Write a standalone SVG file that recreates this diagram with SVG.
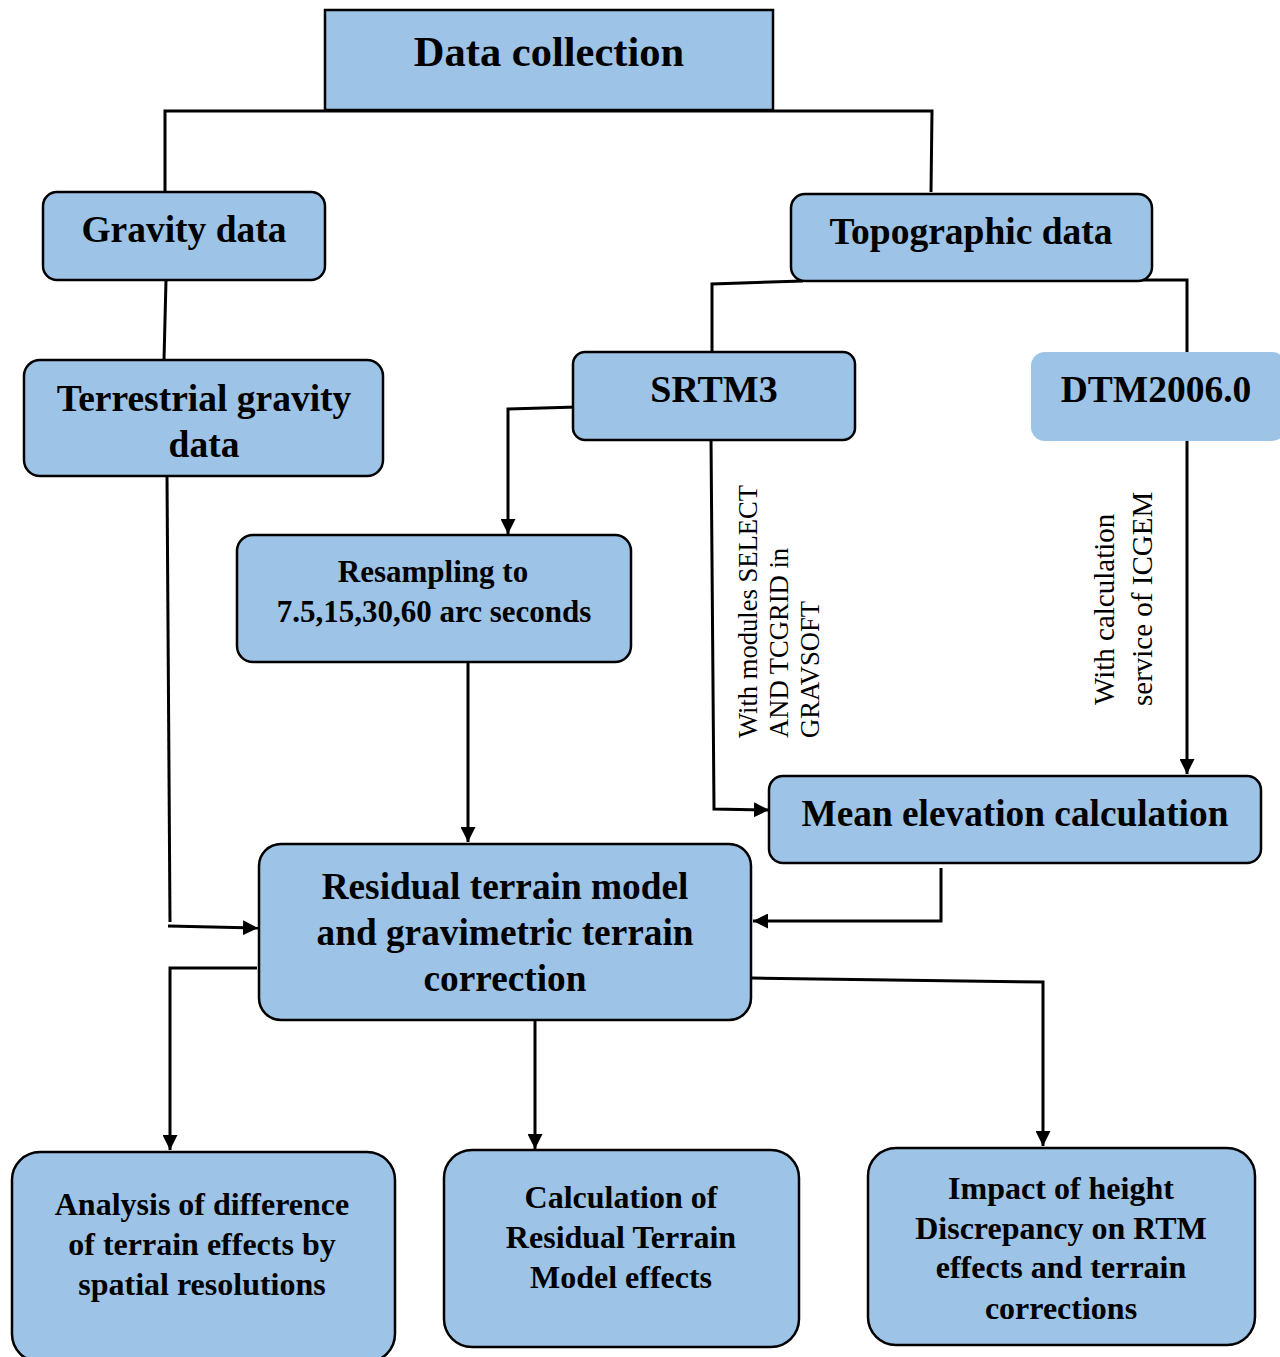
<svg xmlns="http://www.w3.org/2000/svg" width="1280" height="1357" viewBox="0 0 1280 1357">
<defs>
<style>
.box{fill:#9DC3E6;stroke:#000;stroke-width:2.5}
.nb{fill:#9DC3E6;stroke:none}
.t{font-family:"Liberation Serif","Times New Roman",serif;font-weight:bold;fill:#000;text-anchor:middle}
.r{font-family:"Liberation Serif","Times New Roman",serif;fill:#000}
.ln{fill:none;stroke:#000;stroke-width:3}
</style>
<marker id="ah" viewBox="0 0 10 10" refX="10" refY="5" markerWidth="5" markerHeight="5" orient="auto" markerUnits="strokeWidth">
<path d="M0,0 L10,5 L0,10 z" fill="#000"/>
</marker>
</defs>
<rect width="1280" height="1357" fill="#fff"/>
<g id="connectors">
<polyline class="ln" points="165,192 165,111 932,111 931,192"/>
<line class="ln" x1="166" y1="280" x2="164" y2="360"/>
<polyline class="ln" points="803,281 712,284 712,352"/>
<polyline class="ln" points="1140,280 1187,280 1187,352"/>
<polyline class="ln" points="1187,440 1187,774" marker-end="url(#ah)"/>
<polyline class="ln" points="577,407 508,409 508,534" marker-end="url(#ah)"/>
<polyline class="ln" points="468,662 468,842" marker-end="url(#ah)"/>
<polyline class="ln" points="711,437 714,809 769,810" marker-end="url(#ah)"/>
<polyline class="ln" points="941,868 941,921 753,921" marker-end="url(#ah)"/>
<polyline class="ln" points="167,476 170,922"/>
<polyline class="ln" points="168,926 258,928" marker-end="url(#ah)"/>
<polyline class="ln" points="257,968 170,968 170,1150" marker-end="url(#ah)"/>
<polyline class="ln" points="535,1020 535,1149" marker-end="url(#ah)"/>
<polyline class="ln" points="752,978 1043,982 1043,1146" marker-end="url(#ah)"/>
</g>
<g id="data-collection">
<rect class="box" x="325" y="10" width="448" height="100" stroke-width="3"/>
<text class="t" x="549" y="66" font-size="42.5">Data collection</text>
</g>
<g id="gravity-data">
<rect class="box" x="43" y="192" width="282" height="88" rx="14"/>
<text class="t" x="184" y="242" font-size="37.5">Gravity data</text>
</g>
<g id="topographic-data">
<rect class="box" x="791" y="194" width="361" height="87" rx="14"/>
<text class="t" x="971" y="244" font-size="37.5">Topographic data</text>
</g>
<g id="terrestrial-gravity-data">
<rect class="box" x="24" y="360" width="359" height="116" rx="16"/>
<text class="t" x="204" y="411" font-size="37.5">Terrestrial gravity</text>
<text class="t" x="204" y="457" font-size="37.5">data</text>
</g>
<g id="srtm3">
<rect class="box" x="573" y="352" width="282" height="88" rx="12"/>
<text class="t" x="714" y="402" font-size="38">SRTM3</text>
</g>
<g id="dtm2006">
<rect class="nb" x="1031" y="352" width="255" height="89" rx="14"/>
<text class="t" x="1156" y="402" font-size="37.5">DTM2006.0</text>
</g>
<g id="resampling">
<rect class="box" x="237" y="535" width="394" height="127" rx="16"/>
<text class="t" x="433" y="582" font-size="31">Resampling to</text>
<text class="t" x="434" y="622" font-size="31">7.5,15,30,60 arc seconds</text>
</g>
<g id="label-gravsoft">
<text class="r" font-size="26.6" transform="translate(757,738) rotate(-90)">With modules SELECT</text>
<text class="r" font-size="26.6" transform="translate(788,738) rotate(-90)">AND TCGRID in</text>
<text class="r" font-size="26.6" transform="translate(819,738) rotate(-90)">GRAVSOFT</text>
</g>
<g id="label-icgem">
<text class="r" font-size="29" transform="translate(1114,705) rotate(-90)">With calculation</text>
<text class="r" font-size="29" transform="translate(1152,706) rotate(-90)">service of ICGEM</text>
</g>
<g id="mean-elevation">
<rect class="box" x="769" y="776" width="492" height="87" rx="14"/>
<text class="t" x="1015" y="826" font-size="37.3">Mean elevation calculation</text>
</g>
<g id="residual-terrain">
<rect class="box" x="259" y="844" width="492" height="176" rx="22"/>
<text class="t" x="505" y="899" font-size="37.3">Residual terrain model</text>
<text class="t" x="505" y="945" font-size="37.3">and gravimetric terrain</text>
<text class="t" x="505" y="991" font-size="37.3">correction</text>
</g>
<g id="analysis">
<rect class="box" x="12" y="1152" width="383" height="210" rx="28"/>
<text class="t" x="202" y="1215" font-size="32">Analysis of difference</text>
<text class="t" x="202" y="1255" font-size="32">of terrain effects by</text>
<text class="t" x="202" y="1295" font-size="32">spatial resolutions</text>
</g>
<g id="calculation">
<rect class="box" x="444" y="1150" width="355" height="197" rx="28"/>
<text class="t" x="621" y="1208" font-size="32">Calculation of</text>
<text class="t" x="621" y="1248" font-size="32">Residual Terrain</text>
<text class="t" x="621" y="1288" font-size="32">Model effects</text>
</g>
<g id="impact">
<rect class="box" x="868" y="1148" width="387" height="197" rx="28"/>
<text class="t" x="1061" y="1199" font-size="32">Impact of height</text>
<text class="t" x="1061" y="1239" font-size="32">Discrepancy on RTM</text>
<text class="t" x="1061" y="1278" font-size="32">effects and terrain</text>
<text class="t" x="1061" y="1319" font-size="32">corrections</text>
</g>
</svg>
